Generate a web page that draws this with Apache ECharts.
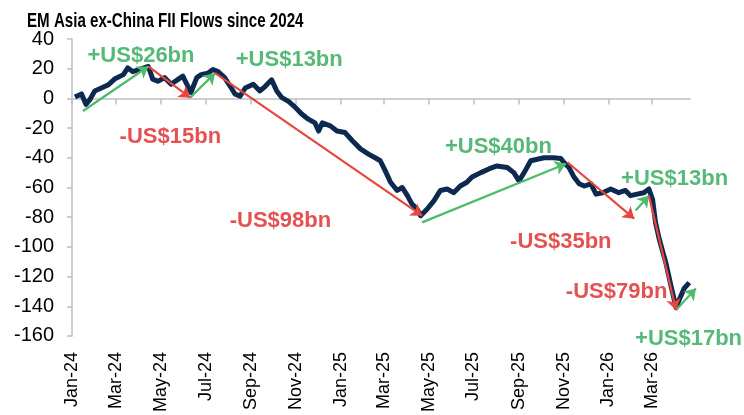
<!DOCTYPE html>
<html>
<head>
<meta charset="utf-8">
<title>EM Asia ex-China FII Flows since 2024</title>
<script src="https://cdn.jsdelivr.net/npm/echarts@6/dist/echarts.min.js"></script>
<style>
  html, body { margin: 0; padding: 0; background: #fff; }
  #chart { width: 744px; height: 415px; }
</style>
</head>
<body>
<div id="chart"></div>
<script>
const flowDates = [
  '2024-01-05', '2024-01-14', '2024-01-20', '2024-01-25', '2024-02-01', '2024-02-10', '2024-02-19', '2024-02-28',
  '2024-03-11', '2024-03-17', '2024-03-24', '2024-04-02', '2024-04-14', '2024-04-20', '2024-04-27', '2024-05-06',
  '2024-05-15', '2024-05-25', '2024-05-31', '2024-06-07', '2024-06-11', '2024-06-19', '2024-06-25', '2024-07-04',
  '2024-07-11', '2024-07-18', '2024-07-27', '2024-08-05', '2024-08-10', '2024-08-17', '2024-08-24', '2024-09-04',
  '2024-09-13', '2024-09-20', '2024-09-29', '2024-10-06', '2024-10-13', '2024-10-22', '2024-10-29', '2024-11-09',
  '2024-11-18', '2024-11-27', '2024-12-02', '2024-12-07', '2024-12-18', '2024-12-27', '2025-01-07', '2025-01-17',
  '2025-01-28', '2025-02-08', '2025-02-17', '2025-02-24', '2025-03-03', '2025-03-10', '2025-03-19', '2025-03-26',
  '2025-04-02', '2025-04-08', '2025-04-15', '2025-04-20', '2025-04-29', '2025-05-08', '2025-05-17', '2025-05-26',
  '2025-06-04', '2025-06-13', '2025-06-22', '2025-06-29', '2025-07-11', '2025-07-22', '2025-08-02', '2025-08-16',
  '2025-08-25', '2025-09-01', '2025-09-08', '2025-09-17', '2025-09-26', '2025-10-05', '2025-10-18', '2025-10-28',
  '2025-11-01', '2025-11-08', '2025-11-15', '2025-11-22', '2025-11-29', '2025-12-08', '2025-12-15', '2025-12-24',
  '2026-01-04', '2026-01-15', '2026-01-24', '2026-01-31', '2026-02-09', '2026-02-18', '2026-02-25', '2026-03-02',
  '2026-03-06', '2026-03-11', '2026-03-16', '2026-03-20', '2026-03-27', '2026-04-03', '2026-04-07', '2026-04-14',
  '2026-04-21'
]
const flowValues = [
  1, 3, -4, -1, 5, 7, 9, 13,
  16, 20.5, 18, 19.5, 21.5, 13, 11.5, 14,
  9.5, 13, 15, 8, 4, 14, 16, 17,
  19.5, 18, 14, 7, 3, 1.5, 7, 9.5,
  5, 8, 12.5, 5, 0.5, -2, -5, -10.5,
  -14, -16.5, -22, -16.5, -18.5, -22, -23, -28.5,
  -34, -37.5, -40, -42, -49, -56.5, -62, -60,
  -65.5, -71, -74.5, -79, -74.5, -69, -62, -61,
  -63.5, -59, -56.5, -53, -50, -47.5, -45.5, -46.5,
  -50, -55.5, -50, -42, -41, -40, -40, -40.5,
  -43, -46.5, -53, -57.5, -59, -57.5, -64.5, -63.5,
  -61, -63.5, -62, -65.5, -64.5, -63.5, -61, -68,
  -83.5, -94.5, -103.5, -110.5, -126, -141, -136, -128,
  -124
]

const axisStart = '2024-01-01'
const axisEnd = '2026-04-22'
const monthNames = ['Jan', 'Feb', 'Mar', 'Apr', 'May', 'Jun', 'Jul', 'Aug', 'Sep', 'Oct', 'Nov', 'Dec']

// arrows: [from date, from value, to date, to value]
const gainArrows = [
  ['2024-01-16', -8.5, '2024-04-14', 21.5],
  ['2024-06-10', 0.5, '2024-07-14', 17],
  ['2025-04-22', -83.5, '2025-11-04', -44],
  ['2026-02-07', -75.5, '2026-02-25', -65.5],
  ['2026-04-03', -142.5, '2026-04-30', -128]
]
const lossArrows = [
  ['2024-04-14', 21.5, '2024-06-10', 0.5],
  ['2024-07-14', 17, '2025-04-22', -79],
  ['2025-11-06', -43, '2026-02-05', -81],
  ['2026-02-25', -65.5, '2026-04-03', -142.5]
]

// annotation text: [text, date, value] (centre of the text)
const gainLabels = [
  ['+US$26bn', '2024-04-04', 28.8],
  ['+US$13bn', '2024-10-23', 26],
  ['+US$40bn', '2025-08-04', -33],
  ['+US$13bn', '2026-04-01', -54],
  ['+US$17bn', '2026-04-20', -162]
]
const lossLabels = [
  ['-US$15bn', '2024-05-14', -26],
  ['-US$98bn', '2024-10-11', -82.5],
  ['-US$35bn', '2025-10-28', -97],
  ['-US$79bn', '2026-01-12', -130.5]
]

const DAY = 86400000
const toUTC = (s) => {
  const [y, m, d] = s.split('-').map(Number)
  return Date.UTC(y, m - 1, d)
}
const t0 = toUTC(axisStart)
const dayIndex = (s) => Math.round((toUTC(s) - t0) / DAY)

const days = []
for (let i = 0; i <= dayIndex(axisEnd); i++) {
  days.push(new Date(t0 + i * DAY).toISOString().slice(0, 10))
}
// a label / tick on the 1st of every other month
const isTickDay = (idx, value) => {
  const m = Number(value.slice(5, 7))
  return value.slice(8) === '01' && m % 2 === 1
}
const fmtMonth = (value) => monthNames[Number(value.slice(5, 7)) - 1] + '-' + value.slice(2, 4)

const font = 'Liberation Sans, Arial, sans-serif'
const grey = '#BFBFBF'
const green = '#2CA855'
const red = '#DF2626'

const arrowSeries = (list, color) => ({
  type: 'lines',
  coordinateSystem: 'cartesian2d',
  clip: false,
  silent: true,
  symbol: ['none', 'arrow'],
  symbolSize: [0, 11],
  lineStyle: { color: color, width: 2.2, opacity: 1 },
  z: 4,
  data: list.map((a) => ({ coords: [[dayIndex(a[0]), a[1]], [dayIndex(a[2]), a[3]]] }))
})
const labelSeries = (list, color) => ({
  type: 'scatter',
  clip: false,
  silent: true,
  symbolSize: 0,
  z: 5,
  data: list.map((l) => ({ name: l[0], value: [dayIndex(l[1]), l[2]] })),
  label: {
    show: true,
    position: 'inside',
    formatter: '{b}',
    color: color,
    fontSize: 22,
    fontWeight: 'bold',
    fontFamily: font
  }
})

const chart = echarts.init(document.getElementById('chart'))
const option = {
  animation: false,
  // the title in the source is a condensed bold face, so squeeze it horizontally
  graphic: [
    {
      type: 'text',
      left: 27,
      top: 11,
      scaleX: 0.72,
      style: {
        text: 'EM Asia ex-China FII Flows since 2024',
        font: 'bold 21px Liberation Sans, Arial, sans-serif',
        fill: '#000'
      }
    }
  ],
  grid: { left: 72, right: 54, top: 39, bottom: 77 },
  xAxis: [
    {
      type: 'category',
      data: days,
      boundaryGap: false,
      axisLine: { show: false, onZero: false },
      axisTick: { show: false },
      axisLabel: {
        interval: isTickDay,
        rotate: 90,
        formatter: fmtMonth,
        margin: 16,
        fontSize: 18,
        color: '#000',
        fontFamily: font
      }
    },
    {
      type: 'category',
      data: days,
      boundaryGap: false,
      position: 'bottom',
      axisLine: { onZero: true, lineStyle: { color: grey, width: 1.5 } },
      axisTick: { interval: isTickDay, length: 6, lineStyle: { color: grey, width: 1.5 } },
      axisLabel: { show: false }
    }
  ],
  yAxis: {
    type: 'value',
    min: -160,
    max: 40,
    interval: 20,
    axisLine: { show: true, onZero: false, lineStyle: { color: grey, width: 1.5 } },
    axisTick: { show: true, length: 5, lineStyle: { color: grey, width: 1.5 } },
    splitLine: { show: false },
    axisLabel: { fontSize: 20, color: '#000', margin: 18, fontFamily: font }
  },
  series: [
    {
      type: 'line',
      data: flowDates.map((d, i) => [dayIndex(d), flowValues[i]]),
      symbol: 'none',
      lineStyle: { color: '#0C2A4F', width: 5, join: 'round' },
      z: 3
    },
    arrowSeries(gainArrows, '#4CBB6A'),
    arrowSeries(lossArrows, '#E8453C'),
    labelSeries(gainLabels, green),
    labelSeries(lossLabels, red)
  ]
}
chart.setOption(option)
</script>
</body>
</html>
